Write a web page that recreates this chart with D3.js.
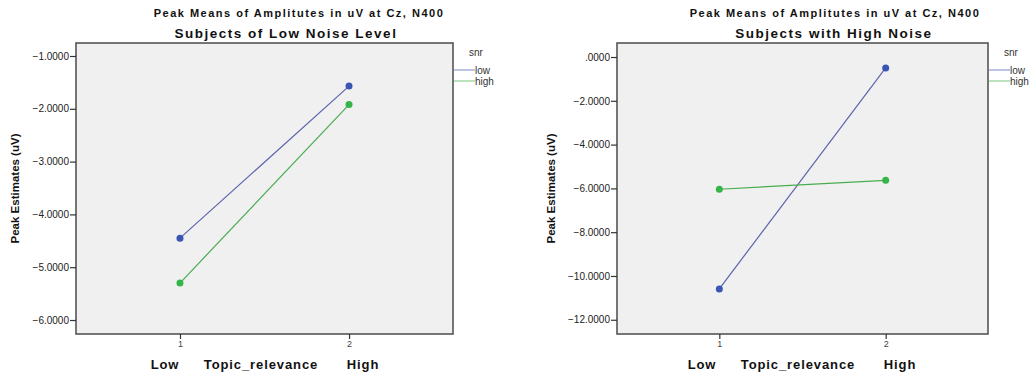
<!DOCTYPE html>
<html>
<head>
<meta charset="utf-8">
<script src="https://cdn.jsdelivr.net/npm/d3@7/dist/d3.min.js"></script>
<style>
  body { margin: 0; background: #fff; }
  svg { display: block; font-family: "Liberation Sans", Arial, sans-serif; }
  .title { font-weight: bold; font-size: 11px; letter-spacing: 1.5px; fill: #111; }
  .subtitle { font-weight: bold; font-size: 13.5px; letter-spacing: 1.5px; fill: #111; }
  .ylabel { font-weight: bold; font-size: 11.5px; fill: #111; }
  .xlabel { font-weight: bold; font-size: 13px; letter-spacing: 0.9px; fill: #111; }
  .axis text { font-size: 10px; fill: #222; font-family: "Liberation Sans", Arial, sans-serif; }
  .x-axis text { font-size: 9px; fill: #444; }
  .axis path { display: none; }
  .axis line { stroke: #333; stroke-width: 1.2; }
  .legend-text { font-size: 10px; fill: #333; }
</style>
</head>
<body>
<div id="chart"></div>
<script>
// categories on the x axis (Topic_relevance)
var categories = [1, 2];
var xLabels = ["Low", "Topic_relevance", "High"];

// snr series
var seriesNames = ["low", "high"];

// panel 1: subjects of low noise level
var lowNoiseSnrLow = [-4.45, -1.57];
var lowNoiseSnrHigh = [-5.30, -1.92];
var lowNoiseTicks = [-1, -2, -3, -4, -5, -6];

// panel 2: subjects with high noise
var highNoiseSnrLow = [-10.59, -0.50];
var highNoiseSnrHigh = [-6.04, -5.63];
var highNoiseTicks = [0, -2, -4, -6, -8, -10, -12];

var title = "Peak Means of Amplitutes in uV at Cz, N400";
var subtitles = ["Subjects of Low Noise Level", "Subjects with High Noise"];
var yTitle = "Peak Estimates (uV)";

var width = 1033, height = 375;

var colours = {
  low: { line: "#5c63ad", dot: "#3a55b4", legend: "#8f9bd0" },
  high: { line: "#48ad4f", dot: "#35b44a", legend: "#8fcf93" }
};

var svg = d3.select("#chart")
  .append("svg")
    .attr("width", width)
    .attr("height", height);

// panel layout
var panels = [
  { box: [76, 43, 453, 334], yDomain: [-6.265, -0.754], ticks: lowNoiseTicks,
    series: [lowNoiseSnrLow, lowNoiseSnrHigh], subtitle: subtitles[0],
    titleX: 299, subX: 286, yLabelX: 19, xLabelX: [165, 261, 363], legendX: 453 },
  { box: [617, 43, 988, 334], yDomain: [-12.65, 0.64], ticks: highNoiseTicks,
    series: [highNoiseSnrLow, highNoiseSnrHigh], subtitle: subtitles[1],
    titleX: 835, subX: 834, yLabelX: 555, xLabelX: [702, 798, 900], legendX: 988 }
];

var formatTick = function(d) {
  return d3.format(".4f")(d).replace(/^(-?)0\./, "$1.");
};

panels.forEach(function(p) {
  var x0 = p.box[0], y0 = p.box[1], x1 = p.box[2], y1 = p.box[3];
  var g = svg.append("g");

  var xScale = d3.scaleLinear().domain([0.385, 2.615]).range([x0, x1]);
  var yScale = d3.scaleLinear().domain(p.yDomain).range([y1, y0]);

  // titles
  g.append("text").attr("class", "title")
    .attr("x", p.titleX).attr("y", 17).attr("text-anchor", "middle").text(title);
  g.append("text").attr("class", "subtitle")
    .attr("x", p.subX).attr("y", 38).attr("text-anchor", "middle").text(p.subtitle);

  // plot background
  g.append("rect")
    .attr("x", x0).attr("y", y0)
    .attr("width", x1 - x0).attr("height", y1 - y0)
    .attr("fill", "#f0f0f0")
    .attr("stroke", "#555")
    .attr("stroke-width", 1.6);

  // axes
  g.append("g")
    .attr("class", "axis y-axis")
    .attr("transform", "translate(" + x0 + ",0)")
    .call(d3.axisLeft(yScale).tickValues(p.ticks).tickFormat(formatTick).tickSize(6).tickPadding(1));

  g.append("g")
    .attr("class", "axis x-axis")
    .attr("transform", "translate(0," + y1 + ")")
    .call(d3.axisBottom(xScale).tickValues(categories).tickFormat(d3.format("d")).tickSize(5).tickPadding(2));

  g.append("text").attr("class", "ylabel")
    .attr("transform", "translate(" + p.yLabelX + "," + ((y0 + y1) / 2) + ") rotate(-90)")
    .attr("text-anchor", "middle")
    .text(yTitle);

  g.selectAll(".xlabel")
    .data(xLabels)
    .enter()
    .append("text")
      .attr("class", "xlabel")
      .attr("x", function(d, i) { return p.xLabelX[i]; })
      .attr("y", 369)
      .attr("text-anchor", "middle")
      .text(function(d) { return d; });

  // lines and points
  p.series.forEach(function(values, si) {
    var c = colours[seriesNames[si]];
    var pts = categories.map(function(cat, i) { return [xScale(cat), yScale(values[i])]; });
    g.append("path")
      .attr("d", d3.line()(pts))
      .attr("fill", "none")
      .attr("stroke", c.line)
      .attr("stroke-width", 1.2);
    g.selectAll(".pt" + si)
      .data(pts)
      .enter()
      .append("circle")
        .attr("cx", function(d) { return d[0]; })
        .attr("cy", function(d) { return d[1]; })
        .attr("r", 3.5)
        .attr("fill", c.dot);
  });

  // legend
  var legend = g.append("g").attr("transform", "translate(" + p.legendX + ",0)");
  legend.append("text").attr("class", "legend-text")
    .attr("x", 16).attr("y", 56).text("snr");
  seriesNames.forEach(function(name, i) {
    var ly = 70 + 11 * i;
    legend.append("line")
      .attr("x1", 1).attr("x2", 22)
      .attr("y1", ly).attr("y2", ly)
      .attr("stroke", colours[name].legend)
      .attr("stroke-width", 1.2);
    legend.append("text").attr("class", "legend-text")
      .attr("x", 22).attr("y", ly + 3.5).text(name);
  });
});
</script>
</body>
</html>
